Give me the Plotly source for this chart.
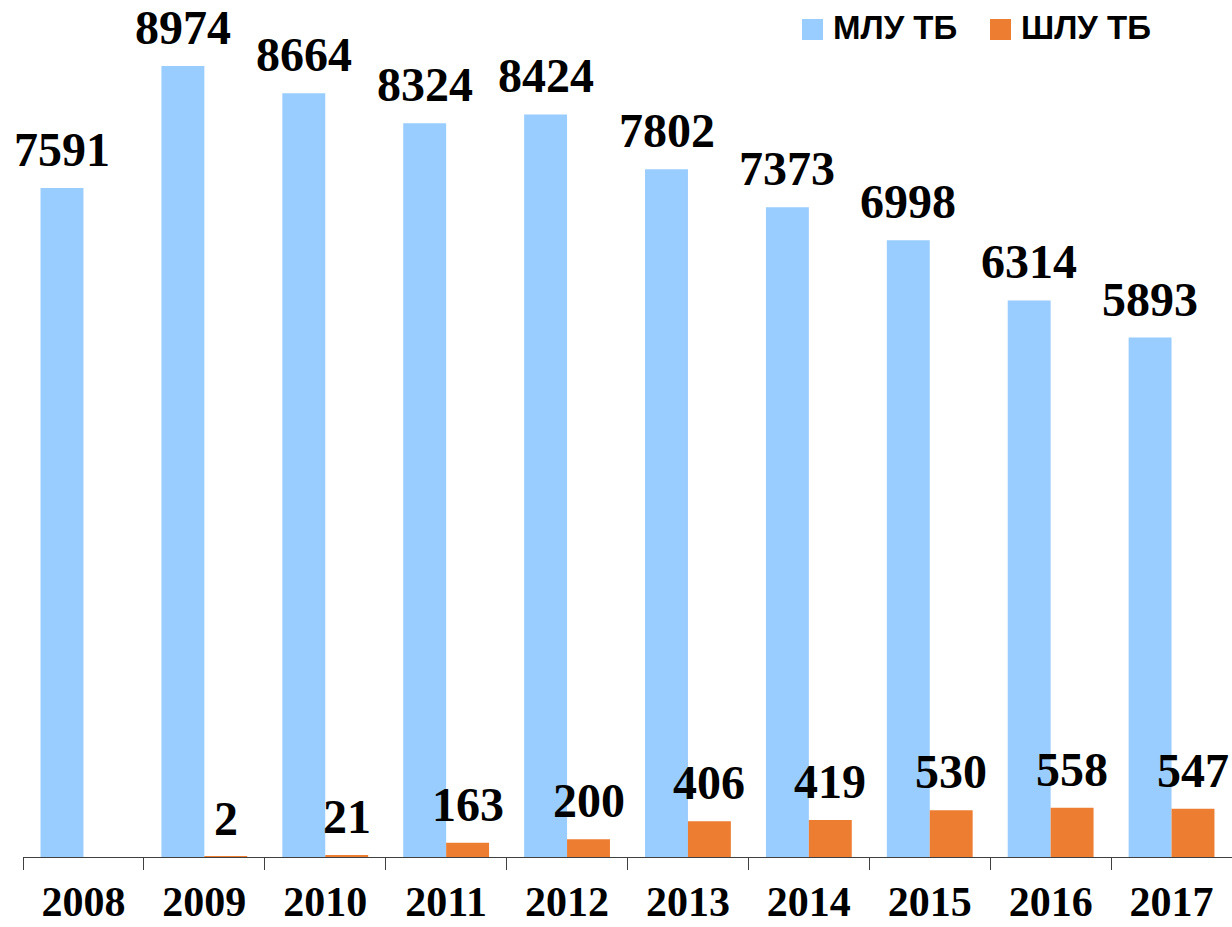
import plotly.graph_objects as go

years = ["2008", "2009", "2010", "2011", "2012", "2013", "2014", "2015", "2016", "2017"]
mdr_tb = [7591, 8974, 8664, 8324, 8424, 7802, 7373, 6998, 6314, 5893]
xdr_tb = [None, 2, 21, 163, 200, 406, 419, 530, 558, 547]
series_names = ["МЛУ ТБ", "ШЛУ ТБ"]
colors = ["#99CCFF", "#ED7D31"]

label_font = dict(family="Liberation Serif", size=48, color="black")

fig = go.Figure()
for name, vals, col in zip(series_names, [mdr_tb, xdr_tb], colors):
    fig.add_trace(go.Bar(
        x=years, y=vals, name=name, marker=dict(color=col, line=dict(width=0)),
        showlegend=False, hoverinfo="x+y",
    ))

# value labels above bars (category index on the category axis, shifted to the bar within its group)
half_bar_px = 21.45
for vals, shift in zip([mdr_tb, xdr_tb], [-half_bar_px, half_bar_px]):
    for i, v in enumerate(vals):
        if v is None:
            continue
        fig.add_annotation(x=i, y=v, xref="x", yref="y", xshift=shift, yshift=10,
                           xanchor="center", yanchor="bottom", showarrow=False,
                           text="<b>%d</b>" % v, font=label_font)

fig.update_layout(
    width=1232, height=927,
    margin=dict(l=23, r=0, t=20, b=70, autoexpand=False),
    barmode="group", bargap=0.29, bargroupgap=0,
    plot_bgcolor="white", paper_bgcolor="white",
    xaxis=dict(
        type="category", showline=True, linecolor="#404040", linewidth=1,
        ticks="outside", tickson="boundaries", ticklen=12, tickcolor="#404040",
        tickfont=dict(family="Liberation Serif", size=42, color="black"),
        tickprefix="<b>", ticksuffix="</b>", showgrid=False, ticklabelstandoff=8,
        range=[-0.5, len(years) - 0.5], automargin=False,
    ),
    yaxis=dict(range=[0, 9496], visible=False, showgrid=False, automargin=False),
)

# Legend drawn manually (large square markers); coordinates in page pixels
plot_left, plot_w, plot_bottom, plot_h = 23, 1209, 857, 837
def px_x(p):
    return (p - plot_left) / plot_w
def px_y(p):
    return (plot_bottom - p) / plot_h

legend_items = [(802, 831), (990, 1019)]
for (sq_x, tx), name, col in zip(legend_items, series_names, colors):
    fig.add_shape(type="rect", xref="paper", yref="paper",
                  x0=px_x(sq_x), x1=px_x(sq_x + 21), y0=px_y(40), y1=px_y(19),
                  fillcolor=col, line=dict(width=0))
    fig.add_annotation(xref="paper", yref="paper", x=px_x(tx), y=px_y(27.5),
                       xanchor="left", yanchor="middle", showarrow=False,
                       text="<b>%s</b>" % name,
                       font=dict(family="Liberation Sans", size=33, color="black"))

fig.write_html("out.html", config={"displayModeBar": False},
               post_script="document.body.style.margin='0';document.body.style.overflow='hidden';")
